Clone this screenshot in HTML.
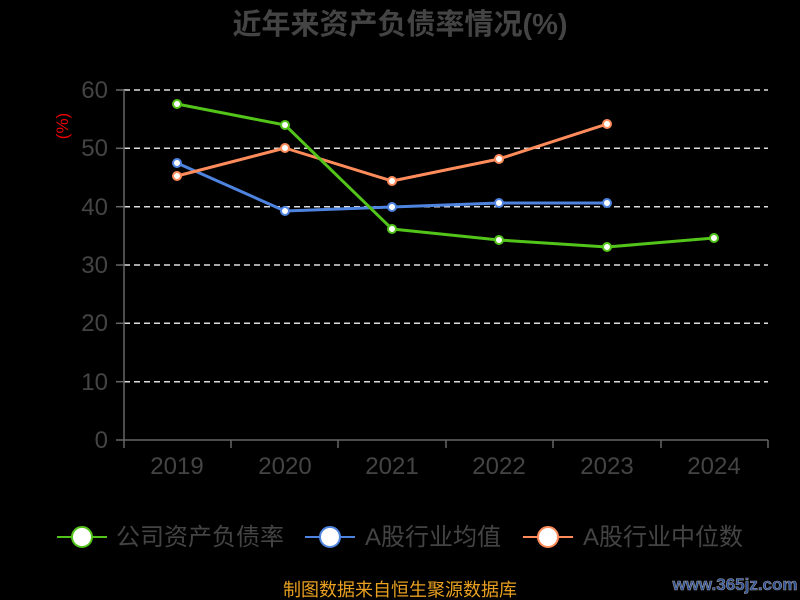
<!DOCTYPE html><html><head><meta charset="utf-8"><style>body{margin:0;background:#000;}svg{display:block}</style></head><body>
<svg width="800" height="600" xmlns="http://www.w3.org/2000/svg" font-family="Liberation Sans, Noto Sans CJK SC, sans-serif">
<rect width="800" height="600" fill="#000"/>
<text x="400" y="34" text-anchor="middle" font-size="29" font-weight="bold" fill="#444">近年来资产负债率情况(%)</text>
<text transform="translate(68,126) rotate(-90)" text-anchor="middle" font-size="17" fill="#e00">(%)</text>
<g stroke="#ddd" stroke-width="1.5" stroke-dasharray="6,4">
<line x1="124" x2="768" y1="90" y2="90"/><line x1="124" x2="768" y1="148.3" y2="148.3"/><line x1="124" x2="768" y1="206.7" y2="206.7"/><line x1="124" x2="768" y1="265" y2="265"/><line x1="124" x2="768" y1="323.3" y2="323.3"/><line x1="124" x2="768" y1="381.7" y2="381.7"/></g>
<g stroke="#666" stroke-width="1.5"><line x1="124" x2="768" y1="440" y2="440"/><line x1="124" x2="124" y1="90" y2="440"/>
<line x1="124" y1="440" x2="124" y2="448"/><line x1="231" y1="440" x2="231" y2="448"/><line x1="338" y1="440" x2="338" y2="448"/><line x1="446" y1="440" x2="446" y2="448"/><line x1="553" y1="440" x2="553" y2="448"/><line x1="661" y1="440" x2="661" y2="448"/><line x1="768" y1="440" x2="768" y2="448"/>
<line x1="116" x2="124" y1="90" y2="90"/><line x1="116" x2="124" y1="148.3" y2="148.3"/><line x1="116" x2="124" y1="206.7" y2="206.7"/><line x1="116" x2="124" y1="265" y2="265"/><line x1="116" x2="124" y1="323.3" y2="323.3"/><line x1="116" x2="124" y1="381.7" y2="381.7"/><line x1="116" x2="124" y1="440" y2="440"/></g>
<g font-size="24" fill="#444" text-anchor="end"><text x="108" y="98">60</text><text x="108" y="156">50</text><text x="108" y="215">40</text><text x="108" y="273">30</text><text x="108" y="331">20</text><text x="108" y="390">10</text><text x="108" y="448">0</text></g>
<g font-size="24" fill="#444" text-anchor="middle"><text x="177" y="474">2019</text><text x="285" y="474">2020</text><text x="392" y="474">2021</text><text x="499" y="474">2022</text><text x="607" y="474">2023</text><text x="714" y="474">2024</text></g>
<g fill="none" stroke-width="3" stroke-linejoin="round">
<polyline stroke="#4e84e0" points="177,163 285,211 392,207 499,203 607,203"/>
<polyline stroke="#ff8c5a" points="177,176 285,148 392,181 499,159 607,124"/>
<polyline stroke="#52c41a" points="177,104 285,125 392,229 499,240 607,247 714,238"/>
</g>
<g stroke-width="2" fill="#fff">
<g stroke="#4e84e0"><circle cx="177" cy="163" r="4"/><circle cx="285" cy="211" r="4"/><circle cx="392" cy="207" r="4"/><circle cx="499" cy="203" r="4"/><circle cx="607" cy="203" r="4"/></g>
<g stroke="#ff8c5a"><circle cx="177" cy="176" r="4"/><circle cx="285" cy="148" r="4"/><circle cx="392" cy="181" r="4"/><circle cx="499" cy="159" r="4"/><circle cx="607" cy="124" r="4"/></g>
<g stroke="#52c41a"><circle cx="177" cy="104" r="4"/><circle cx="285" cy="125" r="4"/><circle cx="392" cy="229" r="4"/><circle cx="499" cy="240" r="4"/><circle cx="607" cy="247" r="4"/><circle cx="714" cy="238" r="4"/></g>
</g>
<g font-size="24" fill="#444">
<line x1="57" x2="107" y1="537" y2="537" stroke="#52c41a" stroke-width="2"/><circle cx="82" cy="537" r="10" fill="#fff" stroke="#52c41a" stroke-width="2"/><text x="116" y="545">公司资产负债率</text>
<line x1="305" x2="355" y1="537" y2="537" stroke="#4e84e0" stroke-width="2"/><circle cx="330" cy="537" r="10" fill="#fff" stroke="#4e84e0" stroke-width="2"/><text x="365" y="545">A股行业均值</text>
<line x1="523" x2="573" y1="537" y2="537" stroke="#ff8c5a" stroke-width="2"/><circle cx="548" cy="537" r="10" fill="#fff" stroke="#ff8c5a" stroke-width="2"/><text x="583" y="545">A股行业中位数</text>
</g>
<text x="400" y="596" text-anchor="middle" font-size="18" fill="#e8a020">制图数据来自恒生聚源数据库</text>
<text x="735" y="590" text-anchor="middle" font-size="17" font-weight="bold" fill="#2a4f9a" stroke="#999" stroke-width="0.6">www.365jz.com</text>
</svg></body></html>
